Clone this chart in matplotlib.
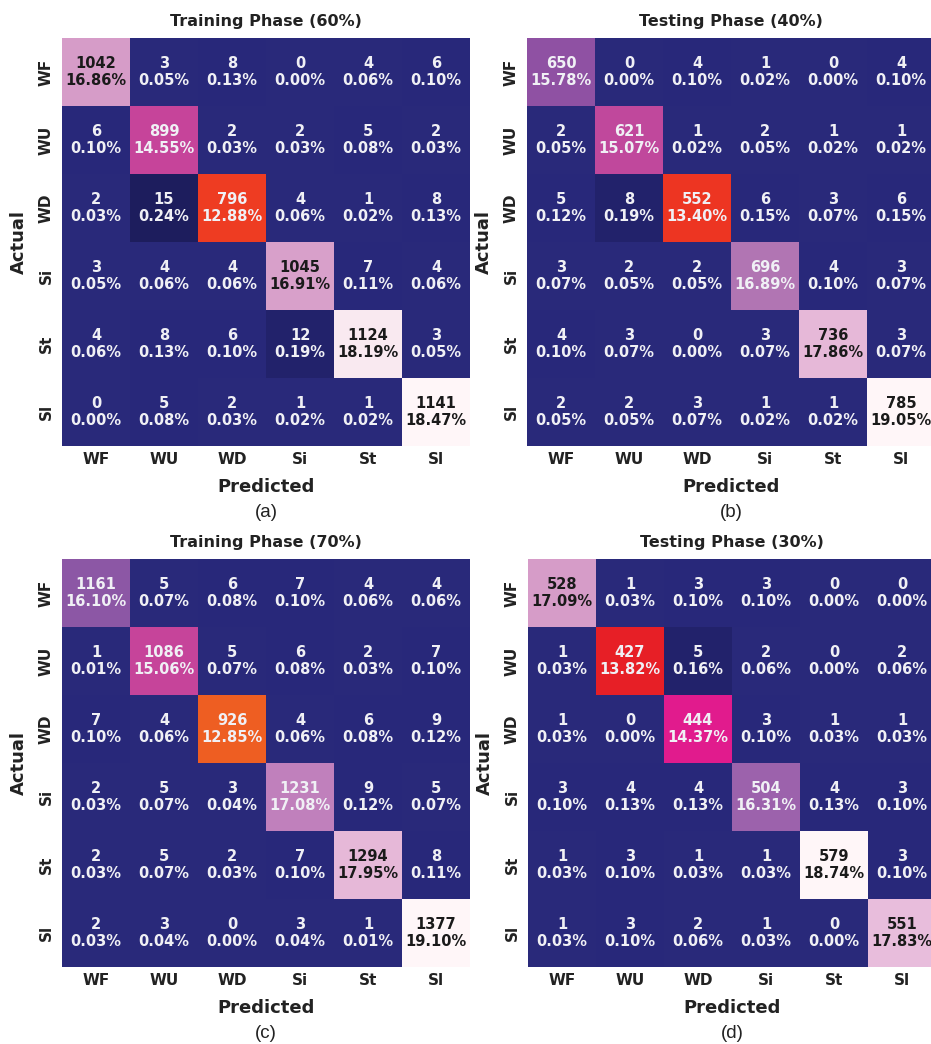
import numpy as np
import matplotlib
matplotlib.use("Agg")
import matplotlib.pyplot as plt
from matplotlib.colors import LinearSegmentedColormap

plt.rcParams['font.family'] = ['DejaVu Sans']

# class labels
labels = ['WF', 'WU', 'WD', 'Si', 'St', 'Sl']

# confusion matrices (rows = actual, cols = predicted)
cm_train60 = [[1042, 3, 8, 0, 4, 6],
              [6, 899, 2, 2, 5, 2],
              [2, 15, 796, 4, 1, 8],
              [3, 4, 4, 1045, 7, 4],
              [4, 8, 6, 12, 1124, 3],
              [0, 5, 2, 1, 1, 1141]]

cm_test40 = [[650, 0, 4, 1, 0, 4],
             [2, 621, 1, 2, 1, 1],
             [5, 8, 552, 6, 3, 6],
             [3, 2, 2, 696, 4, 3],
             [4, 3, 0, 3, 736, 3],
             [2, 2, 3, 1, 1, 785]]

cm_train70 = [[1161, 5, 6, 7, 4, 4],
              [1, 1086, 5, 6, 2, 7],
              [7, 4, 926, 4, 6, 9],
              [2, 5, 3, 1231, 9, 5],
              [2, 5, 2, 7, 1294, 8],
              [2, 3, 0, 3, 1, 1377]]

cm_test30 = [[528, 1, 3, 3, 0, 0],
             [1, 427, 5, 2, 0, 2],
             [1, 0, 444, 3, 1, 1],
             [3, 4, 4, 504, 4, 3],
             [1, 3, 1, 1, 579, 3],
             [1, 3, 2, 1, 0, 551]]

titles = ['Training Phase (60%)', 'Testing Phase (40%)',
          'Training Phase (70%)', 'Testing Phase (30%)']
tags = ['(a)', '(b)', '(c)', '(d)']

# colormap
anchors = [(0.0, '#29297a'), (0.004, '#28287a'), (0.0065, '#252572'),
           (0.0105, '#1f1f60'), (0.014, '#1c1c58'), (0.03, '#262676'),
           (0.6, '#6a2a60'), (0.672, '#ef6222'), (0.70, '#ee3a22'),
           (0.737, '#e82026'), (0.767, '#e4188c'), (0.79, '#c4489c'),
           (0.83, '#8c52a4'), (0.845, '#8c58a6'), (0.87, '#9c62ac'),
           (0.887, '#b276b4'), (0.894, '#c080bc'), (0.913, '#d69cc8'),
           (0.94, '#e6b8d8'), (0.952, '#e8bcdc'), (0.985, '#f8e6ee'),
           (1.0, '#fff6f8')]
cmap = LinearSegmentedColormap.from_list('cm', anchors)


def lum(c):
    r, g, b = [x / 12.92 if x <= 0.03928 else ((x + 0.055) / 1.055) ** 2.4 for x in c[:3]]
    return 0.2126 * r + 0.7152 * g + 0.0722 * b


W, H = 931, 1044
fig = plt.figure(figsize=(W / 100, H / 100), dpi=100)

boxes = [(62, 38), (527, 38), (62, 559), (528, 559)]
side = 408

for k, cm in enumerate([cm_train60, cm_test40, cm_train70, cm_test30]):
    cm = np.array(cm)
    x0, y0 = boxes[k]
    ax = fig.add_axes([x0 / W, 1 - (y0 + side) / H, side / W, side / H])
    ax.imshow(cm, cmap=cmap, vmin=0, vmax=cm.max(), aspect='auto', interpolation='nearest')
    total = cm.sum()
    for i in range(6):
        for j in range(6):
            c = cmap(cm[i, j] / cm.max())
            col = '#1a1a1a' if lum(c) > 0.408 else '#f0f0f5'
            ax.text(j, i, f'{cm[i, j]}\n{cm[i, j] / total * 100:.2f}%', ha='center', va='center',
                    fontsize=10.5, fontweight='bold', color=col, linespacing=1.15)
    ax.set_xticks(range(6))
    ax.set_yticks(range(6))
    ax.set_xticklabels(labels, fontsize=11, fontweight='bold', color='#222222')
    ax.set_yticklabels(labels, fontsize=11, fontweight='bold', color='#222222', rotation=90, va='center')
    ax.tick_params(length=0, pad=4)
    ax.tick_params(axis='y', pad=6)
    for s in ax.spines.values():
        s.set_visible(False)
    ax.set_title(titles[k], fontsize=11.5, fontweight='bold', color='#222222', pad=9)
    ax.set_xlabel('Predicted', fontsize=13, fontweight='bold', color='#222222', labelpad=8)
    ax.set_ylabel('Actual', fontsize=13, fontweight='bold', color='#222222', labelpad=8)
    ax.text(0.5, -0.162, tags[k], transform=ax.transAxes, ha='center', va='center',
            fontsize=13.5, family='Liberation Sans', color='#222222')

fig.savefig('out.png', dpi=100)
